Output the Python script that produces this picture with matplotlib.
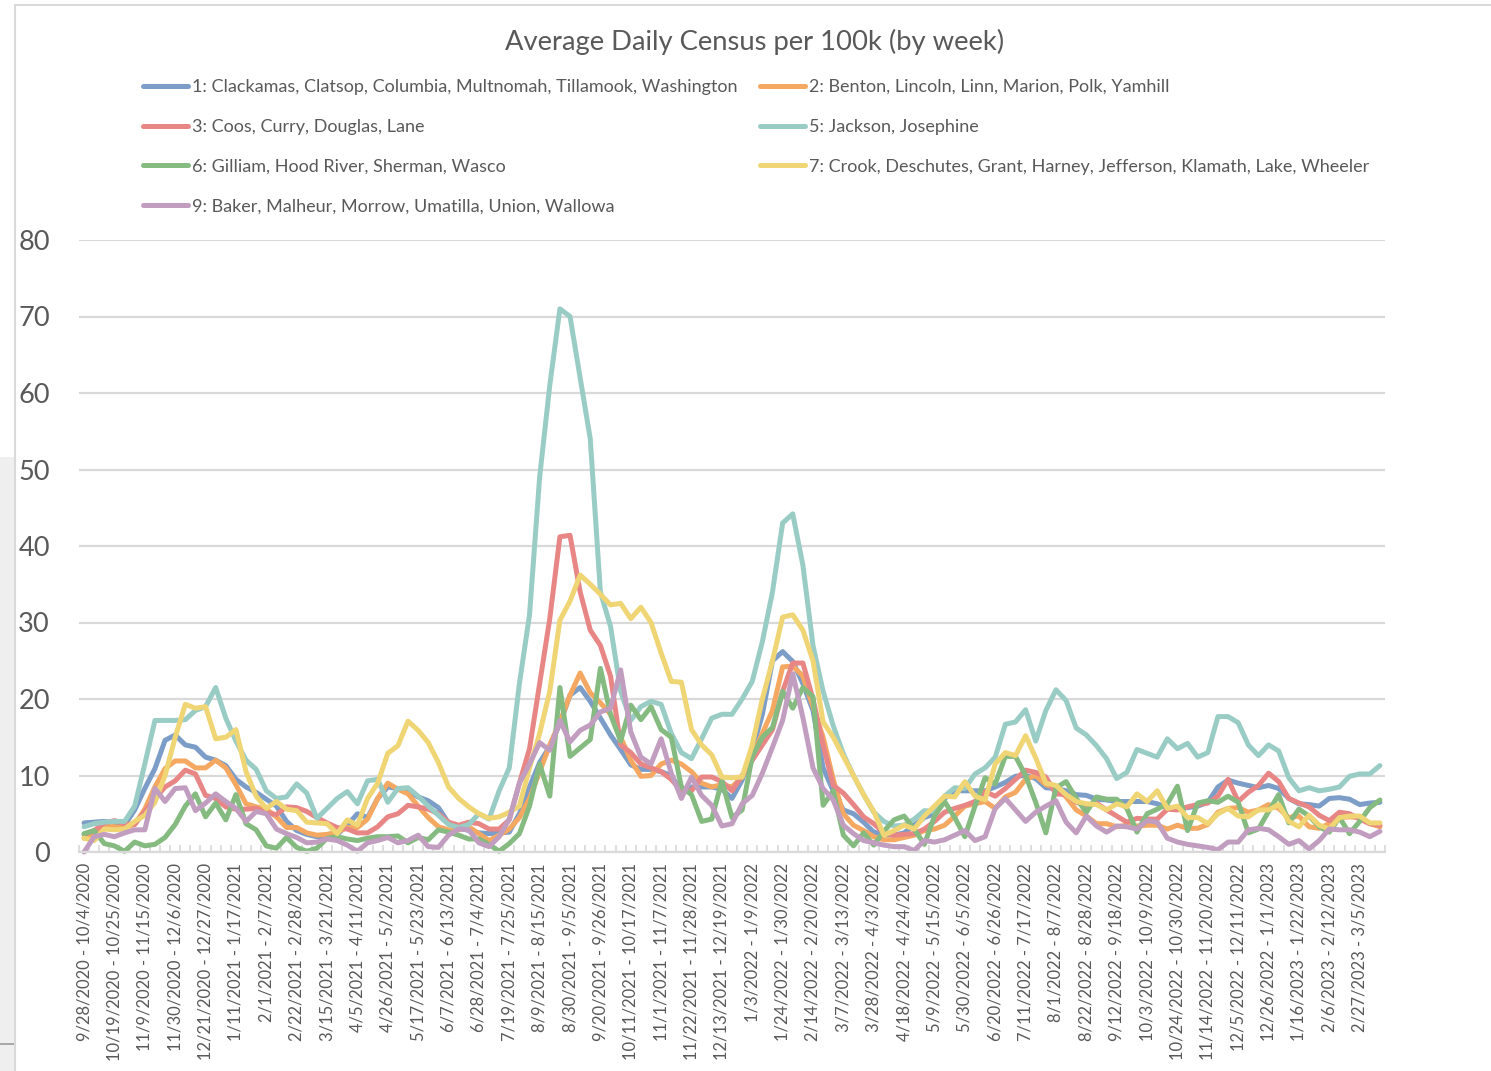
import matplotlib
matplotlib.use('Agg')
import matplotlib.pyplot as plt
from matplotlib.patches import Rectangle
from matplotlib.lines import Line2D
import numpy as np

plt.rcParams['font.family'] = ['Lato', 'DejaVu Sans']

week_labels = [
    '9/28/2020 - 10/4/2020', '10/19/2020 - 10/25/2020', '11/9/2020 - 11/15/2020',
    '11/30/2020 - 12/6/2020', '12/21/2020 - 12/27/2020', '1/11/2021 - 1/17/2021',
    '2/1/2021 - 2/7/2021', '2/22/2021 - 2/28/2021', '3/15/2021 - 3/21/2021',
    '4/5/2021 - 4/11/2021', '4/26/2021 - 5/2/2021', '5/17/2021 - 5/23/2021',
    '6/7/2021 - 6/13/2021', '6/28/2021 - 7/4/2021', '7/19/2021 - 7/25/2021',
    '8/9/2021 - 8/15/2021', '8/30/2021 - 9/5/2021', '9/20/2021 - 9/26/2021',
    '10/11/2021 - 10/17/2021', '11/1/2021 - 11/7/2021', '11/22/2021 - 11/28/2021',
    '12/13/2021 - 12/19/2021', '1/3/2022 - 1/9/2022', '1/24/2022 - 1/30/2022',
    '2/14/2022 - 2/20/2022', '3/7/2022 - 3/13/2022', '3/28/2022 - 4/3/2022',
    '4/18/2022 - 4/24/2022', '5/9/2022 - 5/15/2022', '5/30/2022 - 6/5/2022',
    '6/20/2022 - 6/26/2022', '7/11/2022 - 7/17/2022', '8/1/2022 - 8/7/2022',
    '8/22/2022 - 8/28/2022', '9/12/2022 - 9/18/2022', '10/3/2022 - 10/9/2022',
    '10/24/2022 - 10/30/2022', '11/14/2022 - 11/20/2022', '12/5/2022 - 12/11/2022',
    '12/26/2022 - 1/1/2023', '1/16/2023 - 1/22/2023', '2/6/2023 - 2/12/2023',
    '2/27/2023 - 3/5/2023',
]

region1 = [3.8, 3.9, 4, 3.8, 3.5, 5.5, 8.3, 10.9, 14.6, 15.3,
           14, 13.7, 12.4, 12, 11.3, 9.5, 8.5, 7.8, 6.9, 6,
           4, 2.8, 2.3, 2, 2.1, 2.3, 3.5, 5, 4.5, 7,
           8.5, 8.3, 8, 7.2, 6.7, 5.8, 3.8, 3.2, 2.8, 2.5,
           2.4, 2.5, 2.6, 5, 8.5, 11.7, 13.8, 16.8, 20.5, 21.5,
           19.7, 17.5, 15.3, 13.4, 11.4, 10.8, 10.8, 10.5, 10, 8,
           8.5, 8.5, 8.5, 8.2, 7, 9.4, 13.3, 18, 25, 26.2,
           24.9, 22, 18.5, 11, 8, 5.5, 5, 3.9, 2.6, 2.3,
           2.2, 2.5, 3.5, 4.5, 5, 7, 8, 8, 8, 8,
           8.5, 9.1, 9.9, 10, 9.6, 8.4, 8.3, 8, 7.5, 7.4,
           6.9, 6.8, 6.6, 6.6, 6.6, 6.6, 6.3, 5.8, 5.7, 5.8,
           6, 6.5, 8.5, 9.4, 9, 8.7, 8.4, 8.7, 8.3, 7,
           6.3, 6.2, 6, 7, 7.1, 6.9, 6.2, 6.4, 6.5]
region2 = [1.8, 2.5, 3.5, 3.3, 3.2, 3.6, 5.6, 8.5, 10.9, 11.9,
           11.9, 11, 11, 12, 11, 8.8, 6.3, 5.9, 5.6, 4.6,
           3.2, 3.2, 2.5, 2.2, 2.3, 2.6, 3.2, 3.2, 4.3, 7,
           9, 8.2, 7.6, 6, 4.5, 3.3, 2.9, 2.9, 3.3, 2.4,
           1.5, 2.2, 3, 4.5, 7, 10.5, 14, 17, 20.5, 23.4,
           20.8, 19.5, 18, 15, 12, 9.9, 10, 11.5, 12, 11.5,
           10.5, 9, 8.5, 8.8, 8.5, 9.8, 12.5, 15.5, 18.5, 24.2,
           24.3, 23, 19, 15, 9.5, 5, 3.5, 2.8, 2, 1.6,
           1.6, 1.9, 2.2, 2.8, 3, 3.5, 4.7, 6, 6.3, 6.6,
           5.7, 7.2, 7.8, 9.5, 10, 8.8, 8.4, 7.2, 5.5, 4.7,
           3.7, 3.7, 3.3, 3.5, 3.4, 3.5, 3.5, 3, 3.5, 3.1,
           3.1, 3.6, 5.2, 5.7, 5.8, 5.2, 5.5, 6.2, 5.7, 4.5,
           4.7, 3.3, 3.1, 3.7, 4.5, 4.6, 4.5, 3.7, 3.3]
region3 = [2.3, 2.8, 3.8, 4.1, 3.7, 3.6, 5.3, 7, 8.5, 9.3,
           10.7, 10.2, 7.4, 7, 5.9, 5.6, 5.6, 5.7, 5.1, 4.9,
           5.9, 5.8, 5.3, 4.5, 3.8, 3.2, 3, 2.5, 2.5, 3.3,
           4.6, 5, 6.1, 5.9, 5.6, 5, 3.9, 3.5, 3.9, 3.7,
           3, 3, 4.2, 9, 13.5, 22, 30.5, 41.2, 41.4, 34,
           29, 27, 23, 14, 13, 11.5, 11, 10.5, 9.5, 8,
           8, 9.8, 9.8, 9.2, 8, 10, 12, 14, 16, 21,
           24.7, 24.7, 20, 14, 8.7, 7.7, 6.2, 4.6, 3.7, 2.5,
           2.2, 2.3, 2.4, 3, 4, 5.2, 5.7, 6.1, 6.6, 7.9,
           7.3, 8.3, 9.5, 10.7, 10.4, 9.8, 7.6, 7.5, 6.5, 6.1,
           6.4, 5.5, 4.7, 3.9, 4.4, 4.3, 4.3, 5.6, 5.5, 5.9,
           6.2, 6.4, 7.3, 9.5, 6.6, 7.8, 8.7, 10.3, 9.2, 7,
           6.4, 5.9, 4.8, 4.1, 5.2, 5, 4.3, 3.7, 3.5]
region5 = [3.3, 3.7, 3.9, 4, 4, 6, 11.5, 17.2, 17.2, 17.2,
           17.3, 18.5, 19, 21.5, 17.5, 14.5, 12, 10.8, 8, 7,
           7.2, 8.9, 7.7, 4.4, 5.7, 7, 7.9, 6.3, 9.3, 9.5,
           6.5, 8.3, 8.4, 7.3, 6, 4.8, 3.6, 3.2, 3.6, 5,
           4.3, 8, 11, 22, 31, 49, 61, 71, 70, 62,
           54, 34, 29.5, 21, 17.2, 19, 19.7, 19.3, 15.5, 13,
           12.2, 14.8, 17.5, 18, 18, 20, 22.3, 27.5, 34, 43,
           44.2, 37.5, 27, 21, 16.5, 12.8, 10, 7.5, 5.2, 4,
           3.4, 3.5, 4.3, 5.4, 5.3, 7.3, 8.4, 8.3, 10.2, 11,
           12.4, 16.7, 17, 18.6, 14.5, 18.5, 21.2, 19.8, 16.2, 15.3,
           13.9, 12.2, 9.6, 10.4, 13.4, 12.9, 12.4, 14.8, 13.5, 14.2,
           12.4, 13, 17.7, 17.7, 16.9, 14, 12.6, 14, 13.2, 9.7,
           8, 8.4, 8, 8.2, 8.5, 9.9, 10.2, 10.2, 11.3]
region6 = [2.4, 2.8, 1.1, 0.8, 0.1, 1.3, 0.8, 1, 1.9, 3.6,
           6, 7.6, 4.6, 6.4, 4.2, 7.5, 3.7, 2.9, 0.8, 0.5,
           1.9, 0.6, 0.1, 0.5, 1.8, 2, 1.7, 1.5, 1.8, 2,
           2, 2.1, 1.2, 1.9, 1.6, 2.9, 2.6, 2.2, 1.7, 1.7,
           1, 0.1, 1.1, 2.4, 6, 11.5, 7.3, 21.5, 12.5, 13.6,
           14.7, 24, 18, 14.5, 19.2, 17.3, 19, 16, 15, 8.5,
           7.5, 4, 4.3, 9.3, 4.5, 5.5, 12.5, 15, 16.3, 21,
           18.8, 21.5, 20.3, 6.1, 8, 2.2, 0.8, 2.5, 0.9, 2.7,
           4.2, 4.7, 3, 1, 4.7, 6.6, 4.5, 2, 6, 9.7,
           8.9, 12.5, 12.5, 10, 6.5, 2.5, 8.4, 9.2, 7, 5.2,
           7.2, 6.9, 6.9, 5.7, 2.6, 5, 5.6, 6.3, 8.6, 2.8,
           6.4, 6.7, 6.5, 7.3, 6.5, 2.5, 3, 5.3, 7.5, 3.8,
           5.6, 4.7, 3.3, 2.6, 4.5, 2.4, 4, 5.8, 6.8]
region7 = [1.8, 1.5, 3, 2.9, 3, 4, 4.8, 6.5, 10, 15,
           19.3, 18.8, 19, 14.8, 15, 16, 10.5, 7.3, 5.7, 6.6,
           5.6, 5.4, 3.9, 3.8, 3.7, 2.4, 4.2, 3.5, 7, 9,
           12.9, 13.9, 17.1, 15.9, 14.3, 11.7, 8.5, 7, 5.9, 5,
           4.4, 4.6, 5.2, 6, 11, 15.5, 21, 30.3, 32.8, 36.2,
           35, 33.7, 32.3, 32.5, 30.5, 32, 30, 26, 22.3, 22.2,
           16, 14, 12.7, 9.8, 9.7, 9.8, 14, 20, 25, 30.7,
           31, 29, 25, 17, 15, 12.5, 10, 7.5, 5.3, 2.2,
           2.8, 3.5, 3, 4.7, 6, 7.3, 7.2, 9.2, 7.3, 6.8,
           11.5, 13, 12.6, 15.2, 12.3, 9, 8.7, 7.5, 6.6, 6.3,
           6.2, 5.5, 6.3, 5.9, 7.6, 6.6, 8, 5.7, 6, 4.5,
           4.5, 3.7, 5, 5.7, 4.7, 4.6, 5.5, 5.5, 6.2, 4,
           3.3, 4.8, 3.5, 3, 4.5, 4.7, 4.7, 3.8, 3.8]
region9 = [0, 2, 2.3, 2, 2.5, 2.9, 2.9, 8.3, 6.6, 8.3,
           8.4, 5.4, 6.4, 7.6, 6.6, 5.7, 4, 5.3, 5, 3,
           2.4, 1.9, 1.2, 1.3, 1.7, 1.5, 0.9, 0.1, 1.2, 1.5,
           1.9, 1.2, 1.5, 2.2, 0.7, 0.6, 2.2, 3, 2.9, 1.2,
           0.7, 2, 4.3, 9, 11.5, 14.3, 13.3, 17.2, 14.4, 15.9,
           16.6, 18.3, 18.8, 23.8, 15.7, 12.4, 11.5, 14.8, 10.3, 7,
           9.8, 7.4, 6.1, 3.4, 3.7, 6.3, 7.4, 10.3, 13.7, 17.2,
           23.3, 17.6, 11, 8.3, 6.8, 3.5, 2.4, 1.5, 1.2, 0.9,
           0.7, 0.7, 0.2, 1.5, 1.3, 1.6, 2.2, 2.8, 1.5, 2,
           5.7, 7, 5.5, 4, 5.2, 6, 6.7, 3.9, 2.5, 4.7,
           3.4, 2.6, 3.4, 3.3, 3, 4.1, 3.9, 1.8, 1.3, 1,
           0.8, 0.6, 0.3, 1.3, 1.3, 2.9, 3.1, 2.9, 2, 1,
           1.5, 0.4, 1.5, 3, 2.9, 2.9, 2.6, 2, 2.7]

series_names = [
    '1: Clackamas, Clatsop, Columbia, Multnomah, Tillamook, Washington',
    '2: Benton, Lincoln, Linn, Marion, Polk, Yamhill',
    '3: Coos, Curry, Douglas, Lane',
    '5: Jackson, Josephine',
    '6: Gilliam, Hood River, Sherman, Wasco',
    '7: Crook, Deschutes, Grant, Harney, Jefferson, Klamath, Lake, Wheeler',
    '9: Baker, Malheur, Morrow, Umatilla, Union, Wallowa',
]
series_values = [region1, region2, region3, region5, region6, region7, region9]
colors = ['#7b9dc7', '#f4a862', '#e88686', '#9accc6', '#85bb80', '#efd574', '#c19ec0']

W, H = 1491, 1071
text_col = '#595959'
grid_col = '#d9d9d9'

fig = plt.figure(figsize=(W / 100, H / 100), dpi=100, facecolor='white')
ax = fig.add_axes([79 / W, 1 - 852 / H, (1385 - 79) / W, (852 - 240) / H])

# screenshot leftovers: map strip and chart frame
fig.add_artist(Rectangle((0, 0), 15 / W, 1 - 457 / H, transform=fig.transFigure,
                         facecolor='#efefef', edgecolor='none'))
fig.add_artist(Line2D([0, 15 / W], [1 - 1044 / H] * 2, color='#9a9a9a', lw=1.2))
fig.add_artist(Line2D([15 / W, 15 / W], [0, 1 - 5 / H], color=grid_col, lw=1.5))
fig.add_artist(Line2D([15 / W, 1], [1 - 5 / H] * 2, color=grid_col, lw=1.5))

x = np.arange(len(region1))
for name, vals, c in zip(series_names, series_values, colors):
    ax.plot(x, vals, color=c, lw=3.6, label=name, solid_joinstyle='round', solid_capstyle='round', clip_on=False)

ax.set_xlim(-0.5, len(x) - 0.5)
ax.set_ylim(0, 80)
ax.set_yticks(range(0, 90, 10))
ax.grid(axis='y', color=grid_col, lw=1.6)
ax.set_axisbelow(True)
for s in ['top', 'right', 'left']:
    ax.spines[s].set_visible(False)
ax.spines['bottom'].set_color(grid_col)
ax.spines['bottom'].set_linewidth(1.6)

ax.tick_params(axis='y', length=0, labelsize=19.5, labelcolor=text_col, pad=21)
ax.set_xticks(x[::3])
ax.set_xticklabels(week_labels, rotation=90, ha='center', va='top')
ax.tick_params(axis='x', which='major', length=0, labelsize=11.9, labelcolor=text_col, pad=8)
ax.set_xticks(np.arange(-0.5, len(x)), minor=True)
ax.tick_params(axis='x', which='minor', direction='in', length=5, width=1.2, color=grid_col)

fig.text(755 / W, 1 - 42 / H, 'Average Daily Census per 100k (by week)', ha='center', va='center',
         fontsize=19.7, color=text_col)

handles, labels = ax.get_legend_handles_labels()
# excel fills the legend row by row, matplotlib column by column
order = [0, 2, 4, 6, 1, 3, 5]
leg = ax.legend([handles[i] for i in order], [labels[i] for i in order], ncols=2, frameon=False,
                loc='upper left', bbox_to_anchor=(143 / W, 1 - 79 / H), bbox_transform=fig.transFigure,
                fontsize=13, labelcolor=text_col, handlelength=2.5, handletextpad=0.2,
                columnspacing=1.25, labelspacing=1.32, borderpad=0, borderaxespad=0)

fig.savefig('out.png', dpi=100)
